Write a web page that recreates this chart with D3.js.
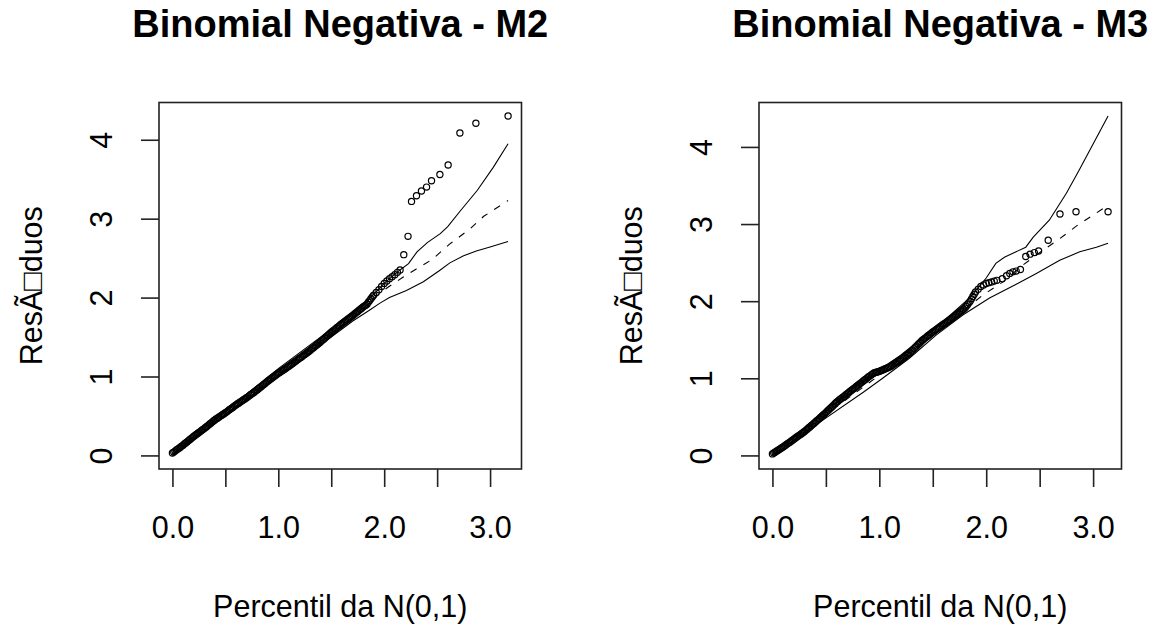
<!DOCTYPE html>
<html>
<head>
<meta charset="utf-8">
<script src="https://cdn.jsdelivr.net/npm/d3@7"></script>
<style>
  html, body { margin: 0; padding: 0; background: #fff; }
  svg { display: block; }
  text { font-family: "Liberation Sans", Arial, sans-serif; fill: #000; }
</style>
</head>
<body>
<svg id="chart" width="1158" height="626"></svg>
<script>
// ---------------- DATA ----------------
const titles = ["Binomial Negativa - M2", "Binomial Negativa - M3"];
const xLabel = "Percentil da N(0,1)";
const yLabel = "ResÃ\u25A1duos";
const xTicks = [0, 0.5, 1, 1.5, 2, 2.5, 3];
const xTickLabels = ["0.0", "", "1.0", "", "2.0", "", "3.0"];
const yTicks = [0, 1, 2, 3, 4];
const yTickLabels = ["0", "1", "2", "3", "4"];

// half-normal percentiles of the dense part (shared by both models)
const bandX = [
  0,0.0125,0.025,0.0375,0.05,0.0625,0.075,0.0875,
  0.1,0.1125,0.125,0.1375,0.15,0.1625,0.175,0.1875,
  0.2,0.2125,0.225,0.2375,0.25,0.2625,0.275,0.2875,
  0.3,0.3125,0.325,0.3375,0.35,0.3625,0.375,0.3875,
  0.4,0.4125,0.425,0.4375,0.45,0.4625,0.475,0.4875,
  0.5,0.5125,0.525,0.5375,0.55,0.5625,0.575,0.5875,
  0.6,0.6125,0.625,0.6375,0.65,0.6625,0.675,0.6875,
  0.7,0.7125,0.725,0.7375,0.75,0.7625,0.775,0.7875,
  0.8,0.8125,0.825,0.8375,0.85,0.8625,0.875,0.8875,
  0.9,0.9125,0.925,0.9375,0.95,0.9625,0.975,0.9875,
  1.0,1.0125,1.025,1.0375,1.05,1.0625,1.075,1.0875,
  1.1,1.1125,1.125,1.1375,1.15,1.1625,1.175,1.1875,
  1.2,1.2125,1.225,1.2375,1.25,1.2625,1.275,1.2875,
  1.3,1.3125,1.325,1.3375,1.35,1.3625,1.375,1.3875,
  1.4,1.4125,1.425,1.4375,1.45,1.4625,1.475,1.4875,
  1.5,1.5125,1.525,1.5375,1.55,1.5625,1.575,1.5875,
  1.6,1.6125,1.625,1.6375,1.65,1.6625,1.675,1.6875,
  1.7,1.7125,1.725,1.7375,1.75,1.7625,1.775,1.7875,
  1.8,1.8125,1.825,1.8375,1.85,1.8625,1.875,1.8875,
  1.9];

// M2: sorted residuals vs half-normal percentiles
const m2X = bandX.concat([1.925,1.95,1.975,2.0,2.025,2.05,2.075,2.1,2.125,2.15,
  2.185,2.225,2.258,2.305,2.352,2.400,2.447,2.526,2.604,2.715,2.866,3.170]);
const m2Y = [
  0.030,0.042,0.055,0.068,0.080,0.092,0.105,0.118,
  0.130,0.144,0.158,0.171,0.185,0.199,0.212,0.226,
  0.240,0.252,0.265,0.278,0.290,0.302,0.315,0.328,
  0.340,0.354,0.368,0.381,0.395,0.409,0.422,0.436,
  0.450,0.461,0.472,0.484,0.495,0.506,0.518,0.529,
  0.540,0.552,0.565,0.578,0.590,0.602,0.615,0.628,
  0.640,0.651,0.662,0.674,0.685,0.696,0.708,0.719,
  0.730,0.742,0.755,0.768,0.780,0.792,0.805,0.818,
  0.830,0.844,0.858,0.871,0.885,0.899,0.912,0.926,
  0.940,0.952,0.965,0.978,0.990,1.002,1.015,1.028,
  1.040,1.051,1.062,1.074,1.085,1.096,1.108,1.119,
  1.130,1.142,1.155,1.168,1.180,1.192,1.205,1.218,
  1.230,1.242,1.255,1.268,1.280,1.292,1.305,1.318,
  1.330,1.344,1.358,1.371,1.385,1.399,1.412,1.426,
  1.440,1.455,1.470,1.485,1.500,1.515,1.530,1.545,
  1.560,1.574,1.588,1.601,1.615,1.629,1.642,1.656,
  1.670,1.682,1.695,1.708,1.720,1.732,1.745,1.758,
  1.770,1.784,1.798,1.811,1.825,1.839,1.852,1.866,
  1.880,1.892,1.904,1.916,1.940,1.962,1.985,2.008,
  2.030,
  2.065,2.10,2.14,2.18,2.21,2.24,2.265,2.29,2.32,2.35,
  2.544,2.776,3.219,3.29,3.35,3.40,3.48,3.56,3.68,4.085,4.21,4.30];
// M2 simulated envelope
const m2EnvX_lo = [0, 0.3, 0.6, 0.9, 1.2, 1.5, 1.7, 1.86, 1.96, 2.05, 2.21, 2.37, 2.52, 2.62, 2.75, 2.87, 3.0, 3.17];
const m2Env_lo  = [0, 0.31, 0.61, 0.91, 1.2, 1.5, 1.7, 1.84, 1.93, 2.0, 2.09, 2.2, 2.34, 2.44, 2.53, 2.59, 2.64, 2.71];
const m2EnvX_md = [0, 0.5, 1.0, 1.5, 1.8, 1.99, 2.18, 2.3, 2.45, 2.62, 2.81, 2.94, 3.17];
const m2Env_md  = [0.01, 0.52, 1.03, 1.54, 1.86, 2.09, 2.26, 2.36, 2.48, 2.68, 2.87, 3.03, 3.23];
const m2EnvX_hi = [0, 0.5, 1.0, 1.5, 1.8, 2.0, 2.13, 2.23, 2.31, 2.41, 2.53, 2.6, 2.72, 2.88, 3.03, 3.17];
const m2Env_hi  = [0.02, 0.56, 1.1, 1.6, 1.9, 2.18, 2.33, 2.43, 2.58, 2.7, 2.81, 2.9, 3.1, 3.36, 3.65, 3.95];

// M3
const m3X = bandX.concat([1.925,1.95,1.975,2.0,2.025,2.05,2.075,2.1,
  2.15,2.19,2.22,2.25,2.28,2.32,2.37,2.41,2.45,2.49,2.58,2.69,2.84,3.14]);
const m3Y = [
  0.020,0.031,0.042,0.054,0.065,0.076,0.088,0.099,
  0.110,0.122,0.135,0.148,0.160,0.172,0.185,0.198,
  0.210,0.222,0.235,0.248,0.260,0.272,0.285,0.298,
  0.310,0.325,0.340,0.355,0.370,0.385,0.400,0.415,
  0.430,0.446,0.461,0.477,0.492,0.508,0.524,0.539,
  0.555,0.572,0.589,0.606,0.622,0.639,0.656,0.673,
  0.690,0.704,0.718,0.731,0.745,0.759,0.772,0.786,
  0.800,0.814,0.828,0.841,0.855,0.869,0.882,0.896,
  0.910,0.924,0.938,0.951,0.965,0.979,0.992,1.006,
  1.020,1.032,1.045,1.058,1.070,1.075,1.080,1.085,
  1.090,1.098,1.105,1.112,1.120,1.128,1.135,1.142,
  1.150,1.161,1.172,1.184,1.195,1.206,1.218,1.229,
  1.240,1.254,1.268,1.281,1.295,1.309,1.322,1.336,
  1.350,1.368,1.385,1.402,1.420,1.438,1.455,1.472,
  1.490,1.504,1.518,1.531,1.545,1.559,1.572,1.586,
  1.600,1.612,1.625,1.638,1.650,1.662,1.675,1.688,
  1.700,1.712,1.725,1.738,1.750,1.762,1.775,1.788,
  1.800,1.814,1.828,1.841,1.855,1.869,1.882,1.896,
  1.910,1.932,1.955,1.978,2.000,2.030,2.060,2.090,
  2.120,
  2.155,2.19,2.21,2.23,2.24,2.25,2.26,2.27,
  2.29,2.33,2.36,2.38,2.39,2.41,2.58,2.61,2.63,2.65,2.79,3.13,3.16,3.16];
const m3EnvX_lo = [0, 0.4, 0.85, 1.031, 1.281, 1.531, 1.781, 2.031, 2.281, 2.469, 2.6875, 2.875, 3.031, 3.14];
const m3Env_lo  = [0, 0.39, 0.82, 1.0, 1.26, 1.56, 1.82, 2.04, 2.22, 2.36, 2.53, 2.64, 2.70, 2.75];
const m3EnvX_md = [0, 0.5, 1.0, 1.5, 1.97, 2.156, 2.344, 2.531, 2.6875, 2.859, 3.0, 3.14];
const m3Env_md  = [0.01, 0.53, 1.04, 1.56, 2.08, 2.25, 2.47, 2.66, 2.81, 2.99, 3.115, 3.245];
const m3EnvX_hi = [0, 0.4, 0.8, 1.2, 1.6, 1.85, 2.0, 2.09, 2.17, 2.37, 2.44, 2.59, 2.75, 2.87, 2.97, 3.14];
const m3Env_hi  = [0.03, 0.46, 0.92, 1.30, 1.74, 2.05, 2.30, 2.49, 2.57, 2.70, 2.83, 3.05, 3.40, 3.70, 3.96, 4.40];

// ---------------- LAYOUT ----------------
const svg = d3.select("#chart");
const FONT_AXIS = 30.5, FONT_TITLE = 38;

const panels = [
  { left: 159, title: titles[0], X: m2X, Y: m2Y,
    env: [[m2EnvX_lo, m2Env_lo, null], [m2EnvX_md, m2Env_md, "7,8"], [m2EnvX_hi, m2Env_hi, null]] },
  { left: 759, title: titles[1], X: m3X, Y: m3Y,
    env: [[m3EnvX_lo, m3Env_lo, null], [m3EnvX_md, m3Env_md, "7,8"], [m3EnvX_hi, m3Env_hi, null]] }
];
const plotW = 362.5, plotTop = 102.5, plotBottom = 469;

function expand(ext) {
  const r = ext[1] - ext[0];
  return [ext[0] - 0.04 * r, ext[1] + 0.04 * r];
}

panels.forEach(p => {
  const allX = p.X.concat(...p.env.map(e => e[0]));
  const allY = p.Y.concat(...p.env.map(e => e[1]));
  const x = d3.scaleLinear().domain(expand(d3.extent(allX))).range([p.left, p.left + plotW]);
  const y = d3.scaleLinear().domain(expand(d3.extent(allY))).range([plotBottom, plotTop]);
  const g = svg.append("g");

  // envelope lines
  const line = d3.line().x(d => x(d[0])).y(d => y(d[1]));
  p.env.forEach(([ex, ey, dash]) => {
    g.append("path")
      .datum(ex.map((v, i) => [v, ey[i]]))
      .attr("d", line)
      .attr("fill", "none")
      .attr("stroke", "#000")
      .attr("stroke-width", 1.1)
      .attr("stroke-dasharray", dash);
  });

  // points
  g.selectAll("circle.pt")
    .data(p.X.map((v, i) => [v, p.Y[i]]))
    .join("circle")
    .attr("class", "pt")
    .attr("cx", d => x(d[0]))
    .attr("cy", d => y(d[1]))
    .attr("r", 3.1)
    .attr("fill", "none")
    .attr("stroke", "#000")
    .attr("stroke-width", 1.2);

  // box
  g.append("rect")
    .attr("x", p.left).attr("y", plotTop)
    .attr("width", plotW).attr("height", plotBottom - plotTop)
    .attr("fill", "none").attr("stroke", "#222").attr("stroke-width", 1.6);

  // x axis
  const xa = g.append("g").attr("transform", `translate(0,${plotBottom})`)
    .call(d3.axisBottom(x).tickValues(xTicks).tickSize(18)
      .tickFormat((d, i) => xTickLabels[i]));
  xa.select(".domain").remove();
  xa.selectAll("line").attr("stroke", "#222").attr("stroke-width", 1.6);
  xa.selectAll("text").attr("y", 538 - plotBottom).attr("dy", 0)
    .attr("font-size", FONT_AXIS).attr("font-family", "Liberation Sans, Arial, sans-serif")
    .attr("fill", "#000");

  // y axis
  const ya = g.append("g").attr("transform", `translate(${p.left},0)`)
    .call(d3.axisLeft(y).tickValues(yTicks).tickSize(18)
      .tickFormat((d, i) => yTickLabels[i]));
  ya.select(".domain").remove();
  ya.selectAll("line").attr("stroke", "#222").attr("stroke-width", 1.6);
  ya.selectAll("text")
    .attr("x", 0).attr("y", 0).attr("dy", 0)
    .attr("transform", `translate(${-47},0) rotate(-90)`)
    .attr("text-anchor", "middle")
    .attr("font-size", FONT_AXIS).attr("font-family", "Liberation Sans, Arial, sans-serif")
    .attr("fill", "#000");

  const cx = p.left + plotW / 2, cy = (plotTop + plotBottom) / 2;
  // title
  svg.append("text").attr("x", cx).attr("y", 37)
    .attr("text-anchor", "middle").attr("font-weight", "bold")
    .attr("font-size", FONT_TITLE).text(p.title);
  // x label
  svg.append("text").attr("x", cx).attr("y", 617)
    .attr("text-anchor", "middle").attr("font-size", FONT_AXIS).text(xLabel);
  // y label
  svg.append("text")
    .attr("transform", `translate(${p.left - 117},${cy}) rotate(-90)`)
    .attr("text-anchor", "middle").attr("font-size", FONT_AXIS).text(yLabel);
});
</script>
</body>
</html>
